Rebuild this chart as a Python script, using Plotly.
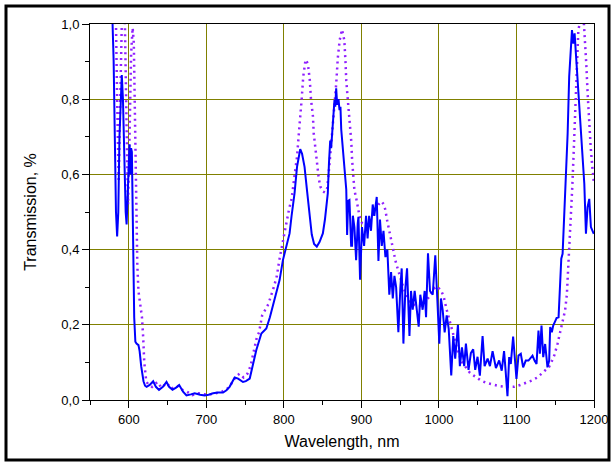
import plotly.graph_objects as go

# Measured transmission (blue solid)
blue_wl = [
    578, 579.5, 580.5, 582, 583.5, 585, 586.5, 588, 590, 591,
    592.5, 594, 596, 597.2, 598.5, 600, 601, 602, 603, 604,
    605, 606, 607, 608.5, 610, 612.5, 614, 616, 619, 621,
    623, 627, 631.5, 635, 639, 644, 648.7, 652, 656.4, 661,
    665, 670, 674.4, 680, 685, 692, 698, 703, 708.7, 715,
    721.6, 726, 730, 736.6, 741, 747.3, 751, 756, 760, 764.5,
    771, 777.4, 782, 786, 790, 794.5, 798.8, 803, 807.4, 810,
    813.8, 817, 819.5, 821.1, 823.5, 826.7, 830, 833.1, 836, 839,
    842.5, 846, 850.3, 853, 856.7, 858.2, 858.9, 859.8, 861, 862,
    863.1, 864.2, 865.3, 866.3, 867.5, 868.8, 870.5, 871.8, 873, 874,
    876.9, 879, 880.5, 881.6, 883, 884.6, 886.8, 888, 889, 891,
    893.2, 895.3, 896.2, 898.3, 900.8, 903.5, 906, 908, 910, 912.4,
    914.6, 916.7, 919.8, 922, 924, 926.3, 928.5, 931, 933.5, 936,
    938.3, 940.5, 942.6, 944.8, 947.7, 950.3, 952, 954.2, 956.8, 958.9,
    962, 964, 966.2, 968.7, 971.3, 973.9, 976, 979, 981.6, 983.4,
    985.9, 988.5, 992, 995.3, 997.9, 1000.5, 1002.6, 1004.8, 1007.4, 1010,
    1012.6, 1015.9, 1018.5, 1021, 1024.5, 1027, 1029.7, 1032.6, 1034.8, 1038.2,
    1041.2, 1044.2, 1046.8, 1049.8, 1052.8, 1056.3, 1058.9, 1062.8, 1065.8, 1069.2,
    1073.5, 1077.7, 1081, 1084, 1086, 1088.4, 1090.6, 1092.7, 1095.7, 1098.3,
    1100, 1102.6, 1105.6, 1108.6, 1112, 1115.5, 1119, 1120.7, 1123.3, 1125.9,
    1128.4, 1130.2, 1132.3, 1134.5, 1137, 1140, 1142.2, 1143.5, 1145.6, 1147.4,
    1150, 1151.7, 1154.3, 1156, 1157.8, 1159.5, 1161.6, 1163.8, 1166, 1168,
    1170.3, 1171.6, 1173.3, 1175, 1176.7, 1178.9, 1181, 1183, 1185.3, 1187.5,
    1189.6, 1191.7, 1193.9, 1196, 1199.7,
]
blue_T = [
    1.08, 1.0, 0.9, 0.7, 0.5, 0.435, 0.5, 0.7, 0.85, 0.864,
    0.8, 0.65, 0.5, 0.467, 0.55, 0.67, 0.68, 0.6, 0.67, 0.66,
    0.5, 0.35, 0.22, 0.155, 0.15, 0.146, 0.13, 0.09, 0.05, 0.038,
    0.035, 0.04, 0.05, 0.035, 0.027, 0.035, 0.048, 0.035, 0.027, 0.033,
    0.04, 0.022, 0.012, 0.015, 0.018, 0.014, 0.012, 0.014, 0.018, 0.02,
    0.02, 0.026, 0.035, 0.06, 0.057, 0.048, 0.05, 0.057, 0.09, 0.133,
    0.177, 0.19, 0.22, 0.252, 0.285, 0.319, 0.372, 0.41, 0.443, 0.49,
    0.55, 0.62, 0.655, 0.667, 0.655, 0.62, 0.555, 0.487, 0.44, 0.415,
    0.408, 0.42, 0.443, 0.48, 0.55, 0.63, 0.68, 0.69, 0.67, 0.70,
    0.731, 0.76, 0.798, 0.78, 0.829, 0.785, 0.80, 0.771, 0.78, 0.72,
    0.647, 0.59, 0.56, 0.439, 0.53, 0.532, 0.41, 0.41, 0.49, 0.46,
    0.372, 0.47, 0.487, 0.32, 0.46, 0.41, 0.49, 0.43, 0.49, 0.45,
    0.52, 0.49, 0.54, 0.37, 0.48, 0.41, 0.45, 0.38, 0.40, 0.28,
    0.34, 0.27, 0.33, 0.30, 0.18, 0.30, 0.35, 0.15, 0.30, 0.35,
    0.17, 0.29, 0.24, 0.29, 0.24, 0.195, 0.28, 0.24, 0.29, 0.22,
    0.39, 0.29, 0.28, 0.385, 0.27, 0.15, 0.27, 0.24, 0.18, 0.225,
    0.19, 0.065, 0.17, 0.11, 0.2, 0.09, 0.14, 0.09, 0.15, 0.08,
    0.125, 0.135, 0.08, 0.115, 0.065, 0.17, 0.09, 0.11, 0.09, 0.13,
    0.085, 0.105, 0.078, 0.13, 0.078, 0.01, 0.114, 0.096, 0.169, 0.096,
    0.056, 0.118, 0.123, 0.087, 0.105, 0.105, 0.114, 0.118, 0.105, 0.096,
    0.185, 0.123, 0.198, 0.114, 0.149, 0.087, 0.105, 0.194, 0.18, 0.198,
    0.21, 0.218, 0.22, 0.29, 0.376, 0.389, 0.487, 0.567, 0.709, 0.86,
    0.957, 0.984, 0.948, 0.975, 0.92, 0.85, 0.77, 0.69, 0.62, 0.575,
    0.442, 0.513, 0.535, 0.46, 0.442,
]

# Calculated transmission (purple dotted)
calc_wl = [
    576, 580, 583.5, 585, 587, 589, 591, 593, 595, 597,
    599, 601, 603, 605, 606.5, 608, 609.5, 611, 612.5, 615,
    617, 618.5, 620, 622.5, 625, 630, 637, 642, 649, 655,
    662, 668, 675, 682, 690, 697, 705, 712, 720, 727,
    733, 738, 743, 748, 753, 757, 761, 765, 768, 772,
    776, 780, 787, 791, 794, 797, 802, 807, 810, 814,
    817, 819.5, 821, 823, 825, 828, 831, 833.5, 835, 837.5,
    838.5, 841, 842.6, 845, 847, 850, 853, 856, 859, 861,
    863, 865.3, 867.5, 869.6, 872, 875, 878, 879.5, 880.5, 882.5,
    884, 885.5, 887, 888, 890, 891, 893, 895.3, 897.5, 901,
    906, 910, 914, 917, 922, 926, 929, 931, 933, 935,
    938, 940, 944, 946, 950, 954, 957.5, 962, 970, 977,
    983, 988, 992, 998, 1003, 1006, 1010, 1012.5, 1015.5, 1018.5,
    1022, 1025, 1030, 1035, 1040, 1047, 1054, 1062, 1070, 1078,
    1087, 1097, 1105, 1112, 1120, 1127, 1133, 1138, 1142, 1146,
    1149, 1153, 1157, 1160, 1162.7, 1165, 1167, 1168.6, 1170.3, 1172,
    1173.4, 1174.7, 1176, 1177.2, 1178.5, 1179.8, 1181.5, 1184, 1187, 1188.4,
    1190, 1191.8, 1193.5, 1195.7, 1197.8, 1200,
]
calc_T = [
    1.1, 1.05, 1.0, 0.8, 0.58, 0.8, 1.0, 1.05, 1.0, 0.75,
    0.52, 0.7, 0.92, 0.99, 0.95, 0.75, 0.5, 0.36, 0.29, 0.245,
    0.22, 0.17, 0.1, 0.05, 0.042, 0.035, 0.048, 0.033, 0.045, 0.03,
    0.038, 0.028, 0.022, 0.013, 0.018, 0.015, 0.015, 0.018, 0.022, 0.03,
    0.045, 0.062, 0.07, 0.06, 0.07, 0.09, 0.13, 0.165, 0.18, 0.225,
    0.24, 0.255, 0.30, 0.33, 0.37, 0.40, 0.457, 0.51, 0.535, 0.60,
    0.647, 0.713, 0.745, 0.80, 0.86, 0.905, 0.895, 0.85, 0.80, 0.755,
    0.71, 0.66, 0.635, 0.59, 0.568, 0.555, 0.552, 0.564, 0.63, 0.676,
    0.738, 0.795, 0.84, 0.91, 0.957, 0.985, 0.957, 0.90, 0.85, 0.798,
    0.762, 0.709, 0.687, 0.64, 0.58, 0.558, 0.54, 0.51, 0.49, 0.47,
    0.465, 0.47, 0.485, 0.50, 0.52, 0.528, 0.52, 0.505, 0.48, 0.46,
    0.425, 0.405, 0.37, 0.355, 0.325, 0.30, 0.282, 0.262, 0.25, 0.25,
    0.263, 0.276, 0.295, 0.302, 0.29, 0.276, 0.24, 0.22, 0.196, 0.173,
    0.147, 0.125, 0.10, 0.085, 0.072, 0.062, 0.052, 0.045, 0.04, 0.037,
    0.035, 0.035, 0.04, 0.045, 0.052, 0.06, 0.072, 0.08, 0.088, 0.105,
    0.12, 0.15, 0.185, 0.21, 0.238, 0.28, 0.353, 0.424, 0.496, 0.567,
    0.638, 0.709, 0.78, 0.851, 0.922, 0.984, 1.0, 1.01, 1.0, 0.957,
    0.895, 0.815, 0.735, 0.673, 0.62, 0.575,
]

assert len(blue_wl) == len(blue_T), (len(blue_wl), len(blue_T))
assert len(calc_wl) == len(calc_T), (len(calc_wl), len(calc_T))

x_ticks = [600, 700, 800, 900, 1000, 1100, 1200]
y_ticks = [0.0, 0.2, 0.4, 0.6, 0.8, 1.0]
y_labels = ["0,0", "0,2", "0,4", "0,6", "0,8", "1,0"]

FONT = "Liberation Sans, Arial, sans-serif"

fig = go.Figure()
fig.add_trace(go.Scatter(
    x=calc_wl, y=calc_T, mode="lines",
    line=dict(color="#9020ff", width=2.5, dash="2px,4px"),
    hoverinfo="skip",
))
fig.add_trace(go.Scatter(
    x=blue_wl, y=blue_T, mode="lines",
    line=dict(color="#0000ff", width=2),
    hoverinfo="skip",
))

W, H = 611, 463
L, R, T, B = 90, 17, 24, 63
pw, ph = W - L - R, H - T - B

def px(xp):
    return (xp - L) / pw

def py(yp):
    return (H - B - yp) / ph

fig.add_shape(type="rect", xref="paper", yref="paper",
              x0=px(6), x1=px(609), y0=py(6), y1=py(460),
              line=dict(color="black", width=3), fillcolor="rgba(0,0,0,0)")

fig.update_layout(
    width=W, height=H, autosize=False,
    margin=dict(l=L, r=R, t=T, b=B, pad=0, autoexpand=False),
    paper_bgcolor="white", plot_bgcolor="white",
    showlegend=False,
    font=dict(family=FONT, size=13, color="black"),
)
fig.update_xaxes(
    range=[550, 1200], tickvals=x_ticks, ticktext=[str(v) for v in x_ticks],
    ticks="outside", ticklen=7, tickwidth=1, tickcolor="black",
    showline=True, linecolor="black", linewidth=1, mirror=True,
    showgrid=True, gridcolor="#808000", gridwidth=1,
    zeroline=False, automargin=False,
    minor=dict(tickvals=[550, 650, 750, 850, 950, 1050, 1150], ticklen=4,
               tickcolor="black", ticks="outside", showgrid=False),
    title=dict(text="Wavelength, nm", font=dict(family=FONT, size=16), standoff=10),
    tickfont=dict(family=FONT, size=13),
)
fig.update_yaxes(
    range=[0, 1.0], tickvals=y_ticks, ticktext=y_labels,
    ticks="outside", ticklen=7, tickwidth=1, tickcolor="black",
    showline=True, linecolor="black", linewidth=1, mirror=True,
    showgrid=True, gridcolor="#808000", gridwidth=1,
    zeroline=False, automargin=False,
    minor=dict(tickvals=[0.1, 0.3, 0.5, 0.7, 0.9], ticklen=4,
               tickcolor="black", ticks="outside", showgrid=False),
    title=dict(text="Transmission, %", font=dict(family=FONT, size=16), standoff=20),
    tickfont=dict(family=FONT, size=13),
)

fig.write_html("out.html", config={"responsive": False})
